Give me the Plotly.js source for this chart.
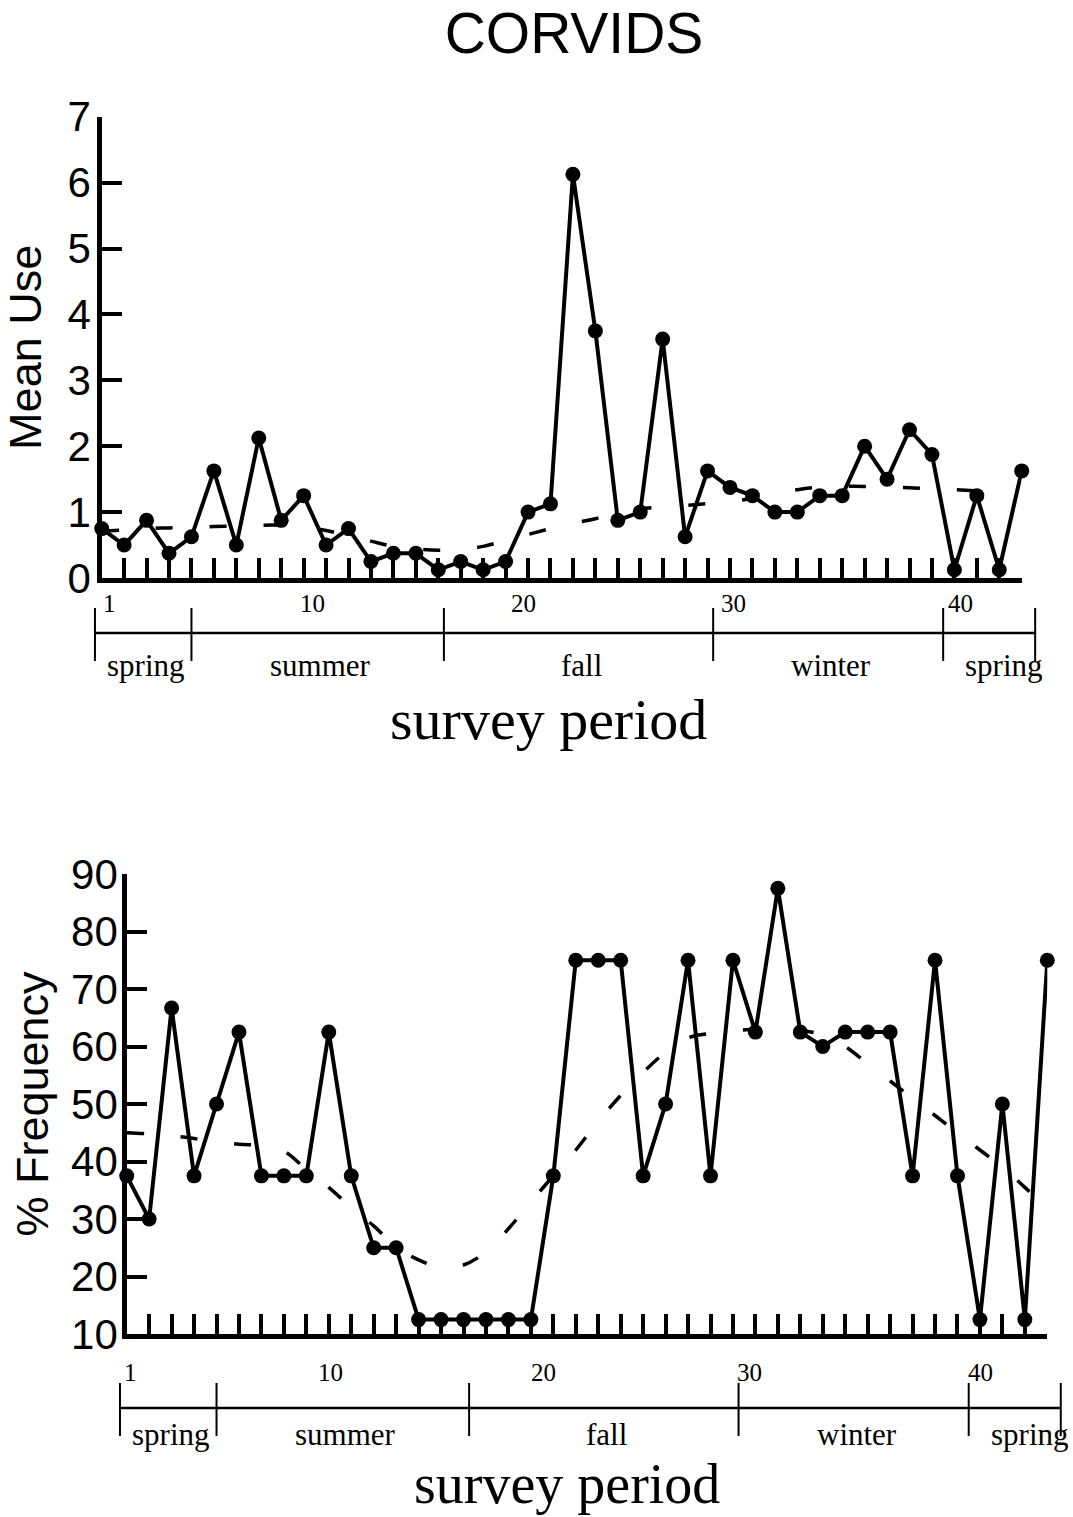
<!DOCTYPE html>
<html>
<head>
<meta charset="utf-8">
<script src="https://cdn.plot.ly/plotly-3.0.1.min.js"></script>
<style>
  html, body { margin: 0; padding: 0; background: #fff; }
  #chart { width: 1073px; height: 1517px; }
</style>
</head>
<body>
<div id="chart"></div>
<script>
// ---------------- data ----------------
const surveyPeriods = [1,2,3,4,5,6,7,8,9,10,11,12,13,14,15,16,17,18,19,20,21,
                       22,23,24,25,26,27,28,29,30,31,32,33,34,35,36,37,38,39,40,41,42];

const meanUse = [0.75,0.5,0.875,0.375,0.625,1.625,0.5,2.125,0.875,1.25,0.5,0.75,0.25,0.375,
                 0.375,0.125,0.25,0.125,0.25,1.0,1.125,6.125,3.75,0.875,1.0,3.625,0.625,1.625,
                 1.375,1.25,1.0,1.0,1.25,1.25,2.0,1.5,2.25,1.875,0.125,1.25,0.125,1.625];

const meanUseTrend = [0.71,0.73,0.75,0.76,0.77,0.78,0.79,0.80,0.80,0.77,0.72,0.64,0.56,0.48,
                      0.44,0.42,0.43,0.48,0.57,0.66,0.75,0.83,0.90,0.99,1.05,1.08,1.10,1.13,
                      1.16,1.21,1.28,1.34,1.38,1.39,1.39,1.38,1.37,1.35,1.34,1.32,1.31];

const frequency = [37.5,30,66.7,37.5,50,62.5,37.5,37.5,37.5,62.5,37.5,25,25,12.5,12.5,12.5,
                   12.5,12.5,12.5,37.5,75,75,75,37.5,50,75,37.5,75,62.5,87.5,62.5,60,62.5,
                   62.5,62.5,37.5,75,37.5,12.5,50,12.5,75];

const frequencyTrend = [45,44.8,44.5,44,43.5,43,42.8,41.8,38.6,35.5,32,28.8,25.2,22.9,21.6,22,
                        24.3,28.3,33,37.5,42,47,51.5,55.5,59,61.5,62.3,62.7,63,63,62.8,62,
                        60,57,54,51,48,45,42,39,35.5,32];

const periodTickVals = [1,10,20,30,40];
const periodTickText = ["1","10","20","30","40"];

const seasonNames  = ["spring","summer","fall","winter","spring"];
const seasonBounds = [0.7, 5.0, 16.25, 28.25, 38.5, 42.6];

const meanUseTicks = [0,1,2,3,4,5,6,7];
const freqTicks    = [10,20,30,40,50,60,70,80,90];

// ---------------- layout helpers ----------------
const W = 1073, H = 1517;
const px2py = p => 1 - p / H;
const SANS  = "Liberation Sans, Arial, sans-serif";
const SERIF = "Liberation Serif, Times New Roman, serif";

const markerLine = { color: "#000", width: 4 };
const trendLine  = { color: "#000", width: 3.5, dash: "17px,37px", shape: "spline" };

const traces = [
  { x: surveyPeriods.slice(0, meanUseTrend.length), y: meanUseTrend, xaxis: "x", yaxis: "y",
    type: "scatter", mode: "lines", line: trendLine, hoverinfo: "skip", cliponaxis: false },
  { x: surveyPeriods, y: meanUse, xaxis: "x", yaxis: "y", type: "scatter", mode: "lines+markers",
    line: markerLine, marker: { color: "#000", size: 15 }, cliponaxis: false },
  { x: surveyPeriods.slice(0, frequencyTrend.length), y: frequencyTrend, xaxis: "x2", yaxis: "y2",
    type: "scatter", mode: "lines", line: trendLine, hoverinfo: "skip", cliponaxis: false },
  { x: surveyPeriods, y: frequency, xaxis: "x2", yaxis: "y2", type: "scatter", mode: "lines+markers",
    line: markerLine, marker: { color: "#000", size: 15 }, cliponaxis: false }
];

const X_RANGE = [1, 42];

function xAxis(domainPx) {
  return {
    domain: [domainPx[0] / W, domainPx[1] / W],
    range: X_RANGE, dtick: 1, tick0: 1,
    showgrid: false, zeroline: false,
    showline: true, linecolor: "#000", linewidth: 4.5,
    ticks: "inside", ticklen: 20, tickwidth: 4, tickcolor: "#000",
    showticklabels: false,
    fixedrange: true
  };
}
function yAxis(domainPx, range, tickvals, title, standoff, labelStandoff) {
  return {
    domain: [px2py(domainPx[1]), px2py(domainPx[0])],
    range: range, tickmode: "array", tickvals: tickvals,
    showgrid: false, zeroline: false,
    showline: true, linecolor: "#000", linewidth: 4.5,
    ticks: "inside", ticklen: 20, tickwidth: 4, tickcolor: "#000",
    tickfont: { family: SANS, size: 42, color: "#000" },
    ticklabelstandoff: labelStandoff,
    title: { text: title, font: { family: SANS, size: 45, color: "#000" }, standoff: standoff },
    fixedrange: true
  };
}

const topXPx = [101.7, 1021.7], botXPx = [126.7, 1047.3];

const layout = {
  width: W, height: H,
  margin: { l: 0, r: 0, t: 0, b: 0, pad: 0 },
  paper_bgcolor: "#fff", plot_bgcolor: "#fff",
  showlegend: false,
  title: { text: "CORVIDS", font: { family: SANS, size: 57, color: "#000" },
           x: 574 / W, xanchor: "center", y: px2py(33), yanchor: "middle", xref: "paper", yref: "paper" },
  xaxis:  Object.assign(xAxis(topXPx), { anchor: "y" }),
  yaxis:  Object.assign(yAxis([116.7, 578], [0, 7], meanUseTicks, "Mean Use", 24, -2), { anchor: "x" }),
  xaxis2: Object.assign(xAxis(botXPx), { anchor: "y2" }),
  yaxis2: Object.assign(yAxis([874, 1334], [10, 90], freqTicks, "% Frequency", 10, -4), { anchor: "x2" }),
  shapes: [],
  annotations: []
};

// season bars + period numbers (hand-drawn key under each panel)
const panels = [
  { domPx: topXPx, lineY: 633,  divTop: 608,  divBot: 661,  numY: 603,  seasonY: 665,
    titleY: 719, titleSize: 58, titleShift: -13, numShift: [8, 9, -5, -19, -16] },
  { domPx: botXPx, lineY: 1408, divTop: 1383, divBot: 1436, numY: 1372, seasonY: 1434,
    titleY: 1484, titleSize: 56, titleShift: -20, numShift: [4, 2, -10, -28, -22] }
];
// map a survey-period value to paper x for the given panel
const toPaperX = (p, v) => (p.domPx[0] + (v - X_RANGE[0]) / (X_RANGE[1] - X_RANGE[0]) * (p.domPx[1] - p.domPx[0])) / W;

panels.forEach(p => {
  layout.shapes.push({ type: "line", xref: "paper", yref: "paper",
    x0: toPaperX(p, seasonBounds[0]), x1: toPaperX(p, seasonBounds[seasonBounds.length - 1]),
    y0: px2py(p.lineY), y1: px2py(p.lineY), line: { color: "#000", width: 2.5 } });
  seasonBounds.forEach(b => {
    layout.shapes.push({ type: "line", xref: "paper", yref: "paper",
      x0: toPaperX(p, b), x1: toPaperX(p, b), y0: px2py(p.divTop), y1: px2py(p.divBot),
      line: { color: "#000", width: 2 } });
  });
  periodTickVals.forEach((v, i) => {
    layout.annotations.push({ xref: "paper", yref: "paper", x: toPaperX(p, v), y: px2py(p.numY),
      text: periodTickText[i], showarrow: false, xanchor: "center", yanchor: "middle",
      xshift: p.numShift[i], font: { family: SERIF, size: 25, color: "#000" } });
  });
  seasonNames.forEach((s, i) => {
    const last = i === seasonNames.length - 1;
    const mid = (seasonBounds[i] + seasonBounds[i + 1]) / 2;
    layout.annotations.push({ xref: "paper", yref: "paper",
      x: toPaperX(p, last ? seasonBounds[i] : mid), y: px2py(p.seasonY),
      text: s, showarrow: false, xanchor: last ? "left" : "center", yanchor: "middle",
      xshift: last ? 20 : 3, font: { family: SERIF, size: 31, color: "#000" } });
  });
  // x-axis title "survey period"
  layout.annotations.push({ xref: "paper", yref: "paper",
    x: (p.domPx[0] + p.domPx[1]) / 2 / W, y: px2py(p.titleY), xshift: p.titleShift,
    text: "survey period", showarrow: false, xanchor: "center", yanchor: "middle",
    font: { family: SERIF, size: p.titleSize, color: "#000" } });
});

Plotly.newPlot("chart", traces, layout, { staticPlot: true, displayModeBar: false });
</script>
</body>
</html>
